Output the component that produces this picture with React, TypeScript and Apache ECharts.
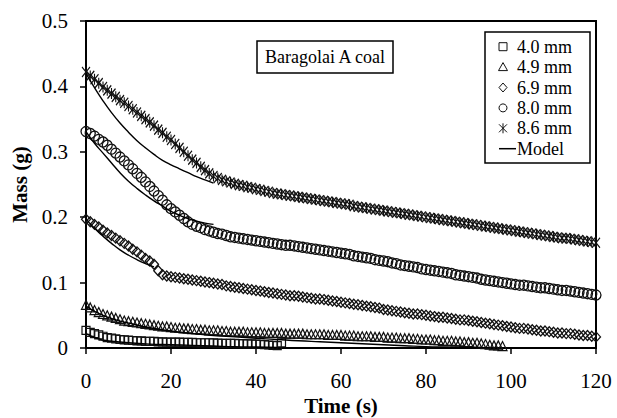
import React, { useEffect, useRef } from "react";
import * as echarts from "echarts";

// Sampling interval of the recorded mass data (s)
const sampleInterval = 1;

const sizeLabels = ["4.0 mm", "4.9 mm", "6.9 mm", "8.0 mm", "8.6 mm"];
const modelLabel = "Model";
const chartNote = "Baragolai A coal";
const xTicks = [0, 20, 40, 60, 80, 100, 120];
const yTicks = [0, 0.1, 0.2, 0.3, 0.4, 0.5];

// Measured mass (g), one value per sample
const mass40 = [
  0.027, 0.024, 0.022, 0.02, 0.018, 0.016, 0.015, 0.014, 0.013, 0.0125,
  0.012, 0.0115, 0.011, 0.011, 0.01, 0.01, 0.01, 0.0095, 0.0095, 0.009,
  0.009, 0.009, 0.009, 0.0085, 0.0085, 0.0085, 0.008, 0.008, 0.008, 0.008,
  0.0077, 0.0075, 0.0073, 0.0072, 0.007, 0.007, 0.0068, 0.0066, 0.0064, 0.0062,
  0.006, 0.0057, 0.0052, 0.0046, 0.004, 0.0035, 0.008,
];
const mass49 = [
  0.066, 0.062, 0.058, 0.055, 0.052, 0.05, 0.048, 0.046, 0.044, 0.042,
  0.041, 0.04, 0.039, 0.038, 0.037, 0.036, 0.035, 0.034, 0.033, 0.033,
  0.032, 0.031, 0.031, 0.03, 0.03, 0.029, 0.029, 0.028, 0.028, 0.027,
  0.027, 0.027, 0.026, 0.026, 0.025, 0.025, 0.025, 0.025, 0.024, 0.024,
  0.024, 0.024, 0.023, 0.023, 0.023, 0.023, 0.023, 0.022, 0.022, 0.022,
  0.022, 0.022, 0.021, 0.021, 0.021, 0.021, 0.021, 0.02, 0.02, 0.02,
  0.02, 0.019, 0.019, 0.019, 0.018, 0.018, 0.018, 0.018, 0.017, 0.017,
  0.017, 0.016, 0.016, 0.016, 0.015, 0.015, 0.015, 0.014, 0.014, 0.013,
  0.013, 0.013, 0.012, 0.012, 0.011, 0.011, 0.011, 0.01, 0.01, 0.009,
  0.009, 0.008, 0.008, 0.007, 0.006, 0.005, 0.004, 0.004, 0.003,
];
const mass69 = [
  0.197, 0.193, 0.189, 0.185, 0.18, 0.176, 0.172, 0.168, 0.164, 0.16,
  0.156, 0.151, 0.147, 0.142, 0.137, 0.133, 0.128, 0.118, 0.112, 0.11,
  0.109, 0.108, 0.107, 0.106, 0.105, 0.104, 0.103, 0.102, 0.101, 0.1,
  0.099, 0.098, 0.097, 0.095, 0.094, 0.093, 0.092, 0.091, 0.09, 0.089,
  0.088, 0.087, 0.086, 0.085, 0.084, 0.083, 0.082, 0.081, 0.08, 0.08,
  0.079, 0.078, 0.077, 0.076, 0.075, 0.075, 0.074, 0.073, 0.072, 0.071,
  0.07, 0.069, 0.068, 0.067, 0.066, 0.065, 0.064, 0.063, 0.062, 0.061,
  0.059, 0.058, 0.057, 0.056, 0.055, 0.054, 0.053, 0.052, 0.052, 0.051,
  0.05, 0.049, 0.048, 0.047, 0.047, 0.046, 0.045, 0.044, 0.043, 0.043,
  0.042, 0.041, 0.04, 0.039, 0.038, 0.037, 0.036, 0.035, 0.034, 0.033,
  0.032, 0.031, 0.03, 0.03, 0.029, 0.028, 0.027, 0.026, 0.026, 0.025,
  0.024, 0.023, 0.023, 0.022, 0.022, 0.021, 0.02, 0.019, 0.019, 0.018,
  0.017,
];
const mass80 = [
  0.331, 0.328, 0.324, 0.319, 0.315, 0.31, 0.304, 0.298, 0.292, 0.286,
  0.28, 0.274, 0.267, 0.261, 0.254, 0.247, 0.24, 0.233, 0.226, 0.219,
  0.213, 0.208, 0.203, 0.198, 0.193, 0.189, 0.186, 0.184, 0.181, 0.179,
  0.177, 0.175, 0.174, 0.172, 0.17, 0.169, 0.168, 0.167, 0.166, 0.165,
  0.164, 0.163, 0.162, 0.161, 0.16, 0.159, 0.158, 0.157, 0.157, 0.156,
  0.155, 0.154, 0.153, 0.152, 0.151, 0.15, 0.149, 0.148, 0.147, 0.146,
  0.145, 0.144, 0.143, 0.141, 0.14, 0.139, 0.138, 0.137, 0.135, 0.134,
  0.133, 0.132, 0.13, 0.129, 0.127, 0.126, 0.125, 0.124, 0.123, 0.121,
  0.12, 0.119, 0.118, 0.117, 0.116, 0.115, 0.114, 0.112, 0.111, 0.11,
  0.109, 0.108, 0.107, 0.105, 0.104, 0.103, 0.102, 0.101, 0.1, 0.099,
  0.098, 0.097, 0.096, 0.096, 0.095, 0.094, 0.093, 0.092, 0.092, 0.091,
  0.09, 0.089, 0.088, 0.088, 0.087, 0.086, 0.085, 0.084, 0.083, 0.082,
  0.081,
];
const mass86 = [
  0.422, 0.416, 0.411, 0.405, 0.399, 0.394, 0.389, 0.384, 0.379, 0.375,
  0.37, 0.365, 0.36, 0.355, 0.35, 0.345, 0.34, 0.334, 0.329, 0.323,
  0.318, 0.312, 0.306, 0.3, 0.294, 0.288, 0.283, 0.277, 0.272, 0.267,
  0.263, 0.26, 0.257, 0.255, 0.253, 0.251, 0.249, 0.248, 0.246, 0.245,
  0.243, 0.242, 0.24, 0.239, 0.237, 0.236, 0.235, 0.234, 0.233, 0.232,
  0.231, 0.23, 0.229, 0.228, 0.227, 0.226, 0.225, 0.224, 0.223, 0.222,
  0.221, 0.22, 0.219, 0.217, 0.216, 0.215, 0.214, 0.213, 0.212, 0.211,
  0.21, 0.209, 0.208, 0.207, 0.206, 0.205, 0.204, 0.203, 0.202, 0.201,
  0.2, 0.199, 0.198, 0.197, 0.196, 0.195, 0.194, 0.193, 0.192, 0.191,
  0.19, 0.189, 0.188, 0.187, 0.186, 0.185, 0.184, 0.183, 0.182, 0.181,
  0.18, 0.179, 0.178, 0.177, 0.176, 0.175, 0.174, 0.173, 0.172, 0.171,
  0.17, 0.169, 0.168, 0.168, 0.167, 0.166, 0.165, 0.164, 0.163, 0.162,
  0.161,
];

// Model curves: time (s) and mass (g)
const modelTime40 = [0, 1, 2, 3, 4, 5, 10, 15, 20, 25, 30, 35, 40, 45];
const modelMass40 = [0.022, 0.019, 0.016, 0.014, 0.012, 0.011, 0.008, 0.006, 0.005, 0.004, 0.003, 0.002, 0.0015, 0.001];
const modelTime49 = [0, 2, 4, 6, 8, 10, 15, 20, 25, 30, 35, 40, 45, 50, 55, 60, 65, 70, 75, 80, 85, 90, 95];
const modelMass49 = [0.064, 0.056, 0.05, 0.045, 0.041, 0.038, 0.031, 0.026, 0.022, 0.019, 0.017, 0.015, 0.013, 0.011, 0.0095, 0.008, 0.0065, 0.005, 0.0035, 0.002, 0.0015, 0.001, 0.0005];
const modelTime69 = [0, 2, 4, 6, 8, 10, 12, 14, 16];
const modelMass69 = [0.197, 0.183, 0.171, 0.16, 0.15, 0.142, 0.135, 0.129, 0.124];
const modelTime80 = [0, 2, 4, 6, 8, 10, 12, 14, 16, 18, 20, 22, 24, 26, 28, 30];
const modelMass80 = [0.331, 0.313, 0.298, 0.283, 0.268, 0.255, 0.244, 0.234, 0.225, 0.217, 0.209, 0.203, 0.198, 0.194, 0.191, 0.189];
const modelTime86 = [0, 2, 4, 6, 8, 10, 12, 14, 16, 18, 20, 22, 24, 26, 28, 30];
const modelMass86 = [0.42, 0.398, 0.378, 0.36, 0.344, 0.33, 0.317, 0.306, 0.296, 0.287, 0.28, 0.274, 0.268, 0.262, 0.257, 0.252];

const FONT = "'Liberation Serif', 'Times New Roman', serif";
const INK = "#111";
const ASTERISK = "path://M0,0L8,10M8,0L0,10M4,-0.5L4,10.5";

export default function App() {
  const ref = useRef<HTMLDivElement>(null);

  useEffect(() => {
    document.body.style.margin = "0";
    document.body.style.overflow = "hidden";
    document.documentElement.style.overflow = "hidden";
    if (!ref.current) return;
    const chart = echarts.init(ref.current, undefined, { renderer: "svg", width: 617, height: 418 });

    const measured = [mass40, mass49, mass69, mass80, mass86];
    const symbols: any[] = ["rect", "triangle", "diamond", "circle", ASTERISK];
    const sizes: any[] = [8, 9, [9, 10], 10, [8, 11]];
    const strokes = [1.2, 1.2, 1.3, 1.3, 1.3];
    const models = [
      [modelTime40, modelMass40],
      [modelTime49, modelMass49],
      [modelTime69, modelMass69],
      [modelTime80, modelMass80],
      [modelTime86, modelMass86],
    ];

    const scatterSeries = measured.map((arr, k) => ({
      type: "scatter",
      name: sizeLabels[k],
      data: arr.map((m, i) => [i * sampleInterval, m]),
      symbol: symbols[k],
      symbolSize: sizes[k],
      itemStyle: { color: "rgba(0,0,0,0)", borderColor: INK, borderWidth: strokes[k], opacity: 1 },
      silent: true,
      z: 2,
    }));
    const modelSeries = models.map(([t, m]) => ({
      type: "line",
      name: modelLabel,
      data: t.map((tt, i) => [tt, m[i]]),
      showSymbol: false,
      symbol: "none",
      smooth: true,
      lineStyle: { color: "#000", width: 1.4 },
      silent: true,
      z: 3,
    }));

    const rowY = [46.7, 67.1, 87.5, 107.9, 128.3, 148.7];
    const iconX = 503;
    const textX = 517;
    const legendText = [...sizeLabels, modelLabel];
    const legendIcons: any[] = [
      { type: "rect", shape: { x: iconX - 4, y: rowY[0] - 4, width: 8, height: 8 }, style: { fill: "none", stroke: INK, lineWidth: 1 } },
      { type: "polygon", shape: { points: [[iconX, rowY[1] - 4.5], [iconX + 4.5, rowY[1] + 3.5], [iconX - 4.5, rowY[1] + 3.5]] }, style: { fill: "none", stroke: INK, lineWidth: 1 } },
      { type: "polygon", shape: { points: [[iconX, rowY[2] - 4.5], [iconX + 4, rowY[2]], [iconX, rowY[2] + 4.5], [iconX - 4, rowY[2]]] }, style: { fill: "none", stroke: INK, lineWidth: 1 } },
      { type: "circle", shape: { cx: iconX, cy: rowY[3], r: 4 }, style: { fill: "none", stroke: INK, lineWidth: 1 } },
      { type: "line", shape: { x1: iconX - 4, y1: rowY[4] - 4, x2: iconX + 4, y2: rowY[4] + 4 }, style: { stroke: INK, lineWidth: 1 } },
      { type: "line", shape: { x1: iconX + 4, y1: rowY[4] - 4, x2: iconX - 4, y2: rowY[4] + 4 }, style: { stroke: INK, lineWidth: 1 } },
      { type: "line", shape: { x1: iconX, y1: rowY[4] - 5, x2: iconX, y2: rowY[4] + 5 }, style: { stroke: INK, lineWidth: 1 } },
      { type: "line", shape: { x1: 499, y1: rowY[5], x2: 516, y2: rowY[5] }, style: { stroke: "#000", lineWidth: 1.5 } },
    ];

    chart.setOption({
      animation: false,
      textStyle: { fontFamily: FONT, color: "#000" },
      grid: {
        left: 86,
        right: 21,
        top: 21,
        bottom: 70,
        containLabel: false,
        outerBoundsMode: "none",
        show: true,
        borderColor: "#000",
        borderWidth: 2,
        backgroundColor: "#fff",
      },
      xAxis: {
        type: "value",
        min: xTicks[0],
        max: xTicks[xTicks.length - 1],
        interval: xTicks[1] - xTicks[0],
        splitLine: { show: false },
        axisLine: { show: true, lineStyle: { color: "#000", width: 2 } },
        axisTick: { show: true, inside: false, length: 6, lineStyle: { color: "#000", width: 1.5 } },
        axisLabel: { fontSize: 21, color: "#000", fontFamily: FONT, margin: 22 },
        name: "Time (s)",
        nameLocation: "middle",
        nameGap: 47,
        nameTextStyle: { fontSize: 21, fontWeight: "bold", color: "#000", fontFamily: FONT },
      },
      yAxis: {
        type: "value",
        min: yTicks[0],
        max: yTicks[yTicks.length - 1],
        interval: 0.1,
        splitLine: { show: false },
        axisLine: { show: true, lineStyle: { color: "#000", width: 2 } },
        axisTick: { show: true, inside: false, length: 6, lineStyle: { color: "#000", width: 1.5 } },
        axisLabel: {
          fontSize: 21,
          color: "#000",
          fontFamily: FONT,
          margin: 18,
          formatter: (v: number) => (v === 0 ? "0" : v.toFixed(1)),
        },
        name: "Mass (g)",
        nameLocation: "middle",
        nameGap: 52,
        nameTextStyle: { fontSize: 21, fontWeight: "bold", color: "#000", fontFamily: FONT },
      },
      graphic: [
        {
          type: "rect",
          shape: { x: 257, y: 41, width: 136, height: 32 },
          style: { fill: "#fff", stroke: "#000", lineWidth: 1.5 },
          z: 10,
        },
        {
          type: "text",
          x: 325,
          y: 57,
          style: { text: chartNote, fontSize: 18, fontFamily: FONT, fill: "#000", align: "center", verticalAlign: "middle" },
          z: 11,
        },
        {
          type: "rect",
          shape: { x: 485, y: 32, width: 105, height: 131 },
          style: { fill: "#fff", stroke: "#000", lineWidth: 1.5 },
          z: 10,
        },
        ...legendIcons.map((g) => ({ ...g, z: 11 })),
        ...legendText.map((t, i) => ({
          type: "text",
          x: textX,
          y: rowY[i],
          style: { text: t, fontSize: 18, fontFamily: FONT, fill: "#000", align: "left", verticalAlign: "middle" },
          z: 11,
        })),
      ],
      series: [...scatterSeries, ...modelSeries],
    });

    return () => chart.dispose();
  }, []);

  return (
    <div
      ref={ref}
      style={{ position: "fixed", left: 0, top: 0, width: 617, height: 418, background: "#fff" }}
    />
  );
}
